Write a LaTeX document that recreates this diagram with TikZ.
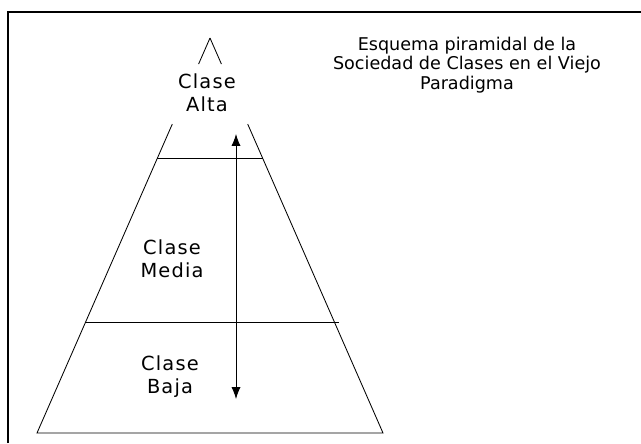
\documentclass[tikz,border=0pt]{standalone}
\usepackage{fontspec}
\setmainfont{DejaVu Sans}
\newfontfamily\lblfont[LetterSpace=6]{DejaVu Sans}
\usepackage{tikz}
\usetikzlibrary{calc,arrows.meta}
\tikzstyle{tsTitle} = [ 
    text=black, 
    font=\fontsize{12.5}{14}\selectfont,
    align=center
]
\tikzstyle{tsLabel} = [ 
    text=black, 
    font=\lblfont\fontsize{13.8}{16.5}\selectfont,
    align=center
]
\tikzstyle{tsLine} = [ 
    draw=black,
    line width=0.6pt]

\begin{document}
\begin{tikzpicture}
        \useasboundingbox (0,0) rectangle (16.025,11.075);

        % frame
        \draw[line width=1.2pt] (0.2,0) -- (0.2,10.775) -- (16.025,10.775);

        \coordinate (apex) at (5.25,10.125);
        \coordinate (baseL) at (0.925,0.25);
        \coordinate (baseR) at (9.575,0.25);

     	\draw[tsLine] (apex) -- ($(apex)!0.066!(baseL)$);
     	\draw[tsLine] (apex) -- ($(apex)!0.066!(baseR)$);
     	\draw[tsLine] ($(apex)!0.218!(baseL)$) -- (baseL) -- (baseR) -- ($(apex)!0.218!(baseR)$);
     	\draw[tsLine] ($(apex)!0.306!(baseL)$) -- ($(apex)!0.306!(baseR)$);
     	\draw[tsLine] ($(apex)!0.719!(baseL)$) -- ($(apex)!0.719!(baseR)+(0.12,0)$);

        \coordinate (arrTop) at (5.9,7.725);
        \coordinate (arrBot) at (5.9,1.1);
     	\draw[tsLine, {Latex[length=8.5pt,width=6.5pt]}-{Latex[length=8.5pt,width=6.5pt]}] (arrTop) -- (arrBot);

   	 	\node[tsLabel] (alta) at (5.175,8.75) {Clase\\Alta};
		\node[tsLabel] (media) at (4.3,4.6) {Clase\\Media};
		\node[tsLabel] (baja) at (4.25,1.65) {Clase\\Baja};

		\node[tsTitle] (title) at (11.675,9.45) {Esquema piramidal de la\\Sociedad de Clases en el Viejo\\Paradigma};
       \end{tikzpicture}
\end{document}
